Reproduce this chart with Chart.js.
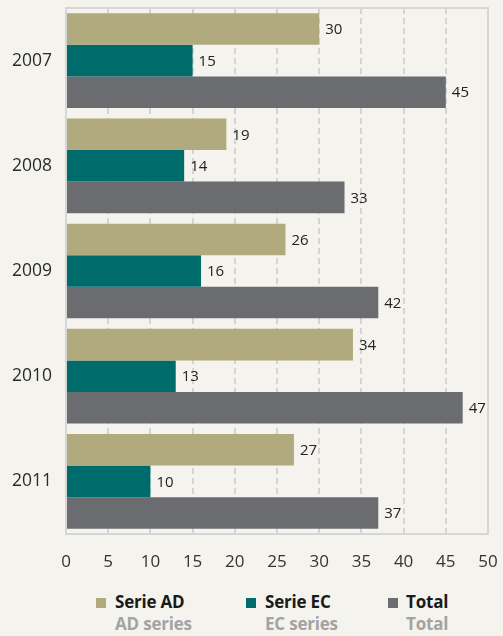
<!DOCTYPE html>
<html>
<head>
<meta charset="utf-8">
<script src="https://cdn.jsdelivr.net/npm/chart.js@4"></script>
<style>
  html, body { margin: 0; padding: 0; background: #f4f3ee; }
  body { width: 503px; height: 636px; position: relative; overflow: hidden; font-family: "Open Sans", "Noto Sans", sans-serif; }
  #wrap { position: absolute; left: 0; top: 0; width: 503px; height: 580px; }
  .legend { position: absolute; top: 591px; left: 0; width: 503px; height: 45px; }
  .item { position: absolute; top: 0; }
  .box { position: absolute; left: 0; top: 7px; width: 10px; height: 10px; }
  .txt { position: absolute; top: 0; font-size: 17px; font-weight: bold; line-height: 22px; white-space: nowrap; letter-spacing: -0.2px; }
  .txt .en { color: #a3a3a3; }
  .txt .es { color: #1a1a1a; }
</style>
</head>
<body>
<div id="wrap"><canvas id="chart"></canvas></div>
<div class="legend" id="legend"></div>
<script>
const years = ['2007', '2008', '2009', '2010', '2011'];
const serieAD = [30, 19, 26, 34, 27];
const serieEC = [15, 14, 16, 13, 10];
const total = [45, 33, 37, 47, 37];
// numbers printed next to the bars (2009 total is printed as 42 in the original)
const labelsAD = [30, 19, 26, 34, 27];
const labelsEC = [15, 14, 16, 13, 10];
const labelsTotal = [45, 33, 42, 47, 37];
const xTicks = [0, 5, 10, 15, 20, 25, 30, 35, 40, 45, 50];

const colors = ['#b0aa7e', '#006b6b', '#6b6c70'];
const legendNames = [['Serie AD', 'AD series'], ['Serie EC', 'EC series'], ['Total', 'Total']];
const legendX = [96, 246, 388];

// data labels at the end of each bar
const barLabels = {
    id: 'barLabels',
    afterDatasetsDraw(chart) {
        const ctx = chart.ctx;
        const texts = [labelsAD, labelsEC, labelsTotal];
        ctx.save();
        ctx.font = '15px "Open Sans", "Noto Sans", sans-serif';
        ctx.fillStyle = '#222222';
        ctx.textBaseline = 'middle';
        ctx.textAlign = 'left';
        chart.data.datasets.forEach((ds, i) => {
            chart.getDatasetMeta(i).data.forEach((bar, j) => {
                ctx.fillText(String(texts[i][j]), bar.x + 6, bar.y + 1);
            });
        });
        ctx.restore();
    }
};

// solid frame around the plot area
const frame = {
    id: 'frame',
    beforeDatasetsDraw(chart) {
        const a = chart.chartArea;
        const ctx = chart.ctx;
        ctx.save();
        ctx.strokeStyle = '#d6d6d6';
        ctx.lineWidth = 2;
        ctx.strokeRect(a.left, a.top, a.right - a.left, a.bottom - a.top);
        ctx.restore();
    }
};

const chart = document.querySelector('#chart').getContext('2d');

new Chart(chart, {
    type: 'bar',
    data: {
        labels: years,
        datasets: [
            { label: 'Serie AD', data: serieAD, backgroundColor: colors[0] },
            { label: 'Serie EC', data: serieEC, backgroundColor: colors[1] },
            { label: 'Total', data: total, backgroundColor: colors[2] }
        ]
    },
    options: {
        indexAxis: 'y',
        responsive: true,
        maintainAspectRatio: false,
        animation: false,
        categoryPercentage: 0.9,
        barPercentage: 1,
        layout: { padding: { left: 0, right: 15, top: 8, bottom: 0 } },
        plugins: {
            legend: { display: false },
            tooltip: { enabled: false }
        },
        scales: {
            x: {
                min: 0,
                max: 50,
                afterBuildTicks: (axis) => { axis.ticks = xTicks.map(v => ({ value: v })); },
                afterFit: (axis) => {
                    axis.height = 46;
                    axis.paddingLeft = 0;
                    axis.paddingRight = 0;
                },
                grid: { color: '#d4d4d4', lineWidth: 2, drawTicks: false },
                border: { display: false, dash: [6, 4] },
                ticks: {
                    padding: 18,
                    color: '#333333',
                    font: { size: 17, family: '"Open Sans", "Noto Sans", sans-serif' }
                }
            },
            y: {
                afterFit: (axis) => {
                    axis.width = 66;
                    axis.paddingTop = 0;
                    axis.paddingBottom = 0;
                },
                grid: { display: false, drawTicks: false },
                border: { display: false },
                ticks: {
                    padding: 14,
                    color: '#2a2a2a',
                    font: { size: 17.5, family: '"Open Sans", "Noto Sans", sans-serif' }
                }
            }
        }
    },
    plugins: [frame, barLabels]
});

// two-line legend below the chart
const legend = document.querySelector('#legend');
legendNames.forEach((names, i) => {
    const item = document.createElement('div');
    item.className = 'item';
    item.style.left = legendX[i] + 'px';
    item.innerHTML = '<div class="box" style="background:' + colors[i] + '"></div>' +
        '<div class="txt" style="left:' + (i === 2 ? 18 : 19) + 'px"><div class="es">' + names[0] +
        '</div><div class="en">' + names[1] + '</div></div>';
    legend.appendChild(item);
});
</script>
</body>
</html>
